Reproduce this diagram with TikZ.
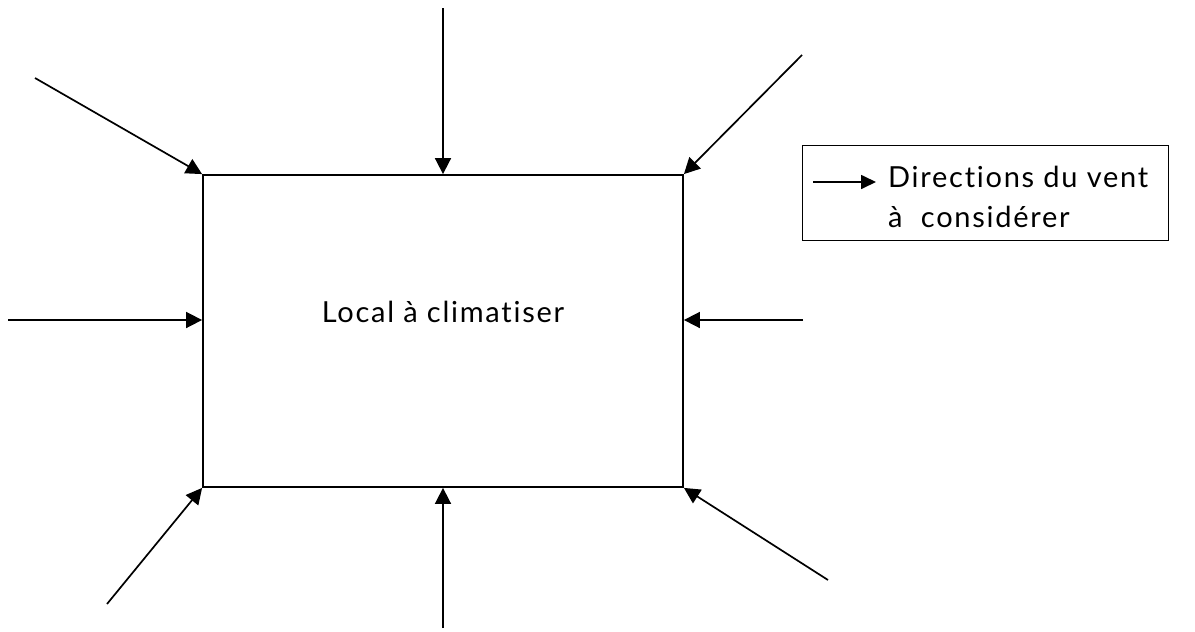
\documentclass[tikz,border=0pt]{standalone}
\usepackage{fontspec}
\setmainfont{Lato}[LetterSpace=6,Ligatures=NoCommon]
\usetikzlibrary{arrows.meta}
\begin{document}
\begin{tikzpicture}[x=1pt,y=-1pt,
  wind/.style={line width=1.7pt,-{Triangle[length=16pt,width=16pt]}},
  frame/.style={draw,line width=1.8pt,inner sep=0pt},
  txt/.style={font=\fontsize{29}{33}\selectfont,inner sep=0pt},
  lbl/.style={txt,anchor=base west}]
\useasboundingbox (0,0) rectangle (1195,632);
% room to be air-conditioned
\node[frame,minimum width=480pt,minimum height=312pt] (room) at (443,331) {};
\node[txt,anchor=base] (roomlbl) at (443,322) {Local à climatiser};
% wind origins
\coordinate (n)  at (443,8);
\coordinate (s)  at (443,628);
\coordinate (w)  at (8,320);
\coordinate (e)  at (803,320);
\coordinate (nw) at (35,78);
\coordinate (ne) at (802,55);
\coordinate (sw) at (107,604);
\coordinate (se) at (828,580);
\draw[wind] (n) -- (room.north);
\draw[wind] (s) -- (room.south);
\draw[wind] (w) -- (room.west |- w);
\draw[wind] (e) -- (room.east |- e);
\draw[wind] (nw) -- (room.north west);
\draw[wind] (ne) -- (room.north east);
\draw[wind] (sw) -- (room.south west);
\draw[wind] (se) -- (room.south east);
% legend
\node[frame,line width=1.4pt,minimum width=366pt,minimum height=95pt,anchor=north west] (legend) at (802,145) {};
\coordinate (la) at (813,182);
\coordinate (lb) at (876,182);
\draw[wind,-{Triangle[length=15pt,width=14pt]}] (la) -- (lb);
\node[lbl] (l1) at (888,187) {Directions du vent};
\node[lbl] (l2) at (888,227) {à\ \ considérer};
\end{tikzpicture}
\end{document}
